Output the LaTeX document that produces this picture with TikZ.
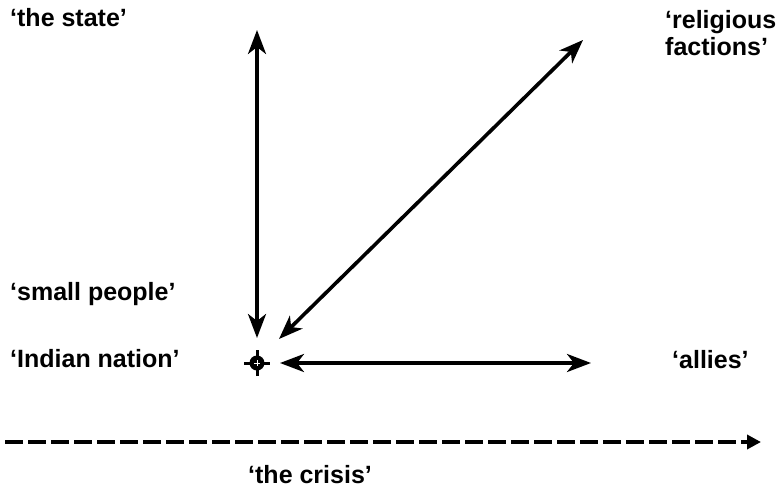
\documentclass[tikz,border=0pt]{standalone}
\usepackage{fontspec}
\setmainfont{Liberation Sans}
\usetikzlibrary{arrows.meta}
\begin{document}
\begin{tikzpicture}[x=1pt,y=-1pt,
  lbl/.style={inner sep=0pt,anchor=base west,font=\fontsize{25}{27}\selectfont\bfseries},
  dbl/.style={line width=3.6pt,{Stealth[length=24pt,width=18pt,inset=7pt]}-{Stealth[length=24pt,width=18pt,inset=7pt]}},
  timeline/.style={line width=3.5pt,dash pattern=on 18pt off 5pt,-{Triangle[length=14pt,width=14pt]}}]
\useasboundingbox (0,0) rectangle (779,490);
% labels
\node[lbl] (state) at (10,26) {‘the state’};
\node[lbl] (relig) at (665,28) {‘religious};
\node[lbl] (fact) at (665,55) {factions’};
\node[lbl] (small) at (10,300) {‘small people’};
\node[lbl] (indian) at (10,367) {‘Indian nation’};
\node[lbl] (allies) at (672,368) {‘allies’};
\node[lbl] (crisis) at (248,483) {‘the crisis’};
% origin marker
\coordinate (o) at (257,363);
\fill (o) circle (7.5);
\draw[line width=3pt] ([xshift=-13pt]o) -- ([xshift=13pt]o) ([yshift=-13pt]o) -- ([yshift=13pt]o);
\draw[white,line width=0.8pt] ([xshift=-3pt]o) -- ([xshift=3pt]o) ([yshift=-3pt]o) -- ([yshift=3pt]o);
% arrow endpoints
\coordinate (vtop) at (257,30);
\coordinate (vbot) at (257,338);
\coordinate (dlo) at (279,339);
\coordinate (dhi) at (583,40);
\coordinate (hl) at (280,363);
\coordinate (hr) at (591,363);
\coordinate (ts) at (5,442);
\coordinate (te) at (761,442);
\draw[dbl] (vbot) -- (vtop);
\draw[dbl] (dlo) -- (dhi);
\draw[dbl] (hl) -- (hr);
\draw[timeline] (ts) -- (te);
\end{tikzpicture}
\end{document}
